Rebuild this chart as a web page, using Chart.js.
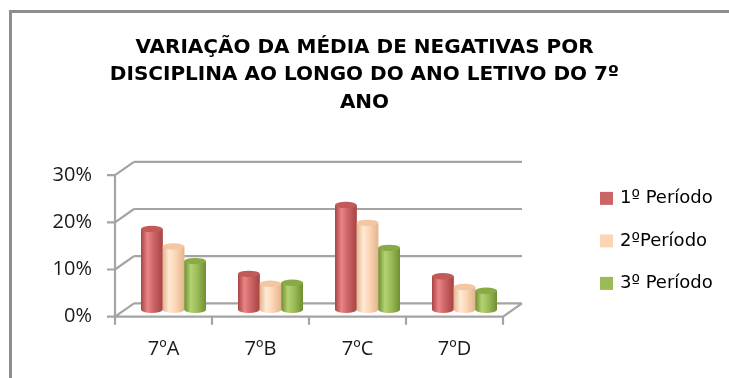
<!DOCTYPE html>
<html>
<head>
<meta charset="utf-8">
<script src="https://cdn.jsdelivr.net/npm/chart.js@4"></script>
<style>
  html, body { margin: 0; padding: 0; background: #fff; overflow: hidden; }
  canvas { display: block; }
</style>
</head>
<body>
<canvas id="chart" width="729" height="378"></canvas>
<script>
'use strict';

/* ── data ───────────────────────────────────────────────────────────── */
const TITLE_LINES = ['VARIAÇÃO DA MÉDIA DE NEGATIVAS POR', 'DISCIPLINA AO LONGO DO ANO LETIVO DO 7º', 'ANO'];
const TURMAS = ['7ºA', '7ºB', '7ºC', '7ºD'];
const PERIODOS = ['1º Período', '2ºPeríodo', '3º Período'];
const PERIODO_1 = [0.171, 0.076, 0.222, 0.071];
const PERIODO_2 = [0.134, 0.055, 0.184, 0.048];
const PERIODO_3 = [0.103, 0.057, 0.131, 0.040];
const Y_TICKS = [0, 0.1, 0.2, 0.3];

/* ── styling ────────────────────────────────────────────────────────── */
// cylinder shading per series: edge / highlight / body / cap
const SHADES = [
    { base: '#CB6464', light: '#E98585', dark: '#A94444', cap: '#C25A5A' },
    { base: '#FCD5B5', light: '#FFEAD6', dark: '#E2B48C', cap: '#F2C7A2' },
    { base: '#9BBB59', light: '#B3D272', dark: '#6F8F30', cap: '#89AB45' },
];
// offsets of the front and back planes from the plane the bars sit in
const FRONT = { dx: -10, dy: 7 };
const BACK = { dx: 9, dy: -6.3 };
const RIGHT_SPACE = 216; // room kept free for the legend

/* ── outer chart border (only top and left edges are in view) ───────── */
const outerFrame = {
    id: 'outerFrame',
    beforeDraw(chart) {
        const ctx = chart.ctx;
        ctx.save();
        ctx.strokeStyle = '#8e8e8e';
        ctx.lineWidth = 3;
        ctx.beginPath();
        ctx.moveTo(10.5, chart.height);
        ctx.lineTo(10.5, 11.5);
        ctx.lineTo(chart.width, 11.5);
        ctx.stroke();
        ctx.restore();
    },
};

/* ── 3D walls, floor and axis lines ─────────────────────────────────── */
const frame3d = {
    id: 'frame3d',
    beforeDatasetsDraw(chart) {
        const { ctx, chartArea: a, scales: { x, y } } = chart;
        const y0 = y.getPixelForValue(0);
        const yTop = y.getPixelForValue(y.max);
        ctx.save();
        ctx.strokeStyle = '#a4a4a4';
        ctx.lineWidth = 2.2;
        ctx.beginPath();
        y.ticks.forEach(t => {
            const py = y.getPixelForValue(t.value);
            ctx.moveTo(a.left + BACK.dx, py + BACK.dy);          // back wall
            ctx.lineTo(a.right + BACK.dx, py + BACK.dy);
            ctx.moveTo(a.left + FRONT.dx, py + FRONT.dy);        // side wall
            ctx.lineTo(a.left + BACK.dx, py + BACK.dy);
            ctx.moveTo(a.left + FRONT.dx - 8, py + FRONT.dy);    // tick mark
            ctx.lineTo(a.left + FRONT.dx, py + FRONT.dy);
        });
        ctx.moveTo(a.left + FRONT.dx, yTop + FRONT.dy);
        ctx.lineTo(a.left + FRONT.dx, y0 + FRONT.dy);
        ctx.lineTo(a.right + FRONT.dx, y0 + FRONT.dy);
        ctx.lineTo(a.right + BACK.dx, y0 + BACK.dy);
        for (let i = 0; i <= TURMAS.length; i++) {
            const px = x.getPixelForValue(i - 0.5) + FRONT.dx;
            ctx.moveTo(px, y0 + FRONT.dy);
            ctx.lineTo(px, y0 + FRONT.dy + 8);
        }
        ctx.stroke();
        ctx.restore();
    },
};

/* ── cylinder shading over the bars ─────────────────────────────────── */
const cylinders = {
    id: 'cylinders',
    afterDatasetsDraw(chart) {
        const ctx = chart.ctx;
        ctx.save();
        chart.data.datasets.forEach((ds, di) => {
            const s = SHADES[di];
            chart.getDatasetMeta(di).data.forEach(bar => {
                const { x, y, base, width } = bar.getProps(['x', 'y', 'base', 'width'], true);
                const rx = width / 2, ry = 3.2;
                const left = x - rx, right = x + rx;
                const g = ctx.createLinearGradient(left, 0, right, 0);
                g.addColorStop(0, s.dark);
                g.addColorStop(0.3, s.light);
                g.addColorStop(0.6, s.base);
                g.addColorStop(1, s.dark);
                ctx.beginPath();
                ctx.moveTo(left, y);
                ctx.lineTo(left, base);
                ctx.ellipse(x, base, rx, ry, 0, Math.PI, 0, true);
                ctx.lineTo(right, y);
                ctx.closePath();
                ctx.fillStyle = g;
                ctx.fill();
                ctx.beginPath();
                ctx.ellipse(x, y, rx, ry, 0, 0, Math.PI * 2);
                ctx.fillStyle = s.cap;
                ctx.fill();
            });
        });
        ctx.restore();
    },
};

/* ── legend on the right ────────────────────────────────────────────── */
const sideLegend = {
    id: 'sideLegend',
    afterDraw(chart) {
        const { ctx, chartArea: a } = chart;
        const cy = (a.top + a.bottom) / 2 + 2;
        const gap = 42.5;
        ctx.save();
        ctx.font = '18px "DejaVu Sans"';
        ctx.textBaseline = 'middle';
        chart.data.datasets.forEach((ds, i) => {
            const rowY = cy + (i - 1) * gap;
            ctx.fillStyle = ds.backgroundColor;
            ctx.fillRect(a.right + 87, rowY - 6.5, 13, 13);
            ctx.fillStyle = '#000';
            ctx.fillText(ds.label, a.right + 107, rowY);
        });
        ctx.restore();
    },
};

/* ── chart ──────────────────────────────────────────────────────────── */
const series = [PERIODO_1, PERIODO_2, PERIODO_3];

new Chart(document.getElementById('chart'), {
    type: 'bar',
    data: {
        labels: TURMAS,
        datasets: series.map((d, i) => ({
            label: PERIODOS[i],
            data: d,
            backgroundColor: SHADES[i].base,
            borderWidth: 0,
            categoryPercentage: 0.67,
            barPercentage: 1,
        })),
    },
    options: {
        responsive: false,
        animation: false,
        layout: { padding: 0 },
        plugins: {
            legend: { display: false },
            tooltip: { enabled: false },
            title: {
                display: true,
                text: TITLE_LINES,
                color: '#000',
                font: { family: '"DejaVu Sans"', size: 20, weight: 'bold', lineHeight: '27.5px' },
                padding: { top: 34, bottom: 51.6 },
            },
        },
        scales: {
            x: {
                grid: { display: false, drawTicks: false },
                border: { display: false },
                ticks: { color: '#1a1a1a', font: { family: '"Open Sans"', size: 20 }, padding: 28, labelOffset: -10 },
                afterFit: s => { s.height = 68.3; s.paddingRight = RIGHT_SPACE; },
            },
            y: {
                min: 0,
                max: 0.3,
                grid: { display: false, drawTicks: false },
                border: { display: false },
                afterBuildTicks: s => { s.ticks = Y_TICKS.map(v => ({ value: v })); },
                ticks: {
                    color: '#1a1a1a',
                    font: { family: '"Open Sans"', size: 20 },
                    padding: 33,
                    labelOffset: 7,
                    callback: v => Math.round(v * 100) + '%',
                },
                afterFit: s => { s.width = 125; },
            },
        },
    },
    plugins: [outerFrame, frame3d, cylinders, sideLegend],
});
</script>
</body>
</html>
